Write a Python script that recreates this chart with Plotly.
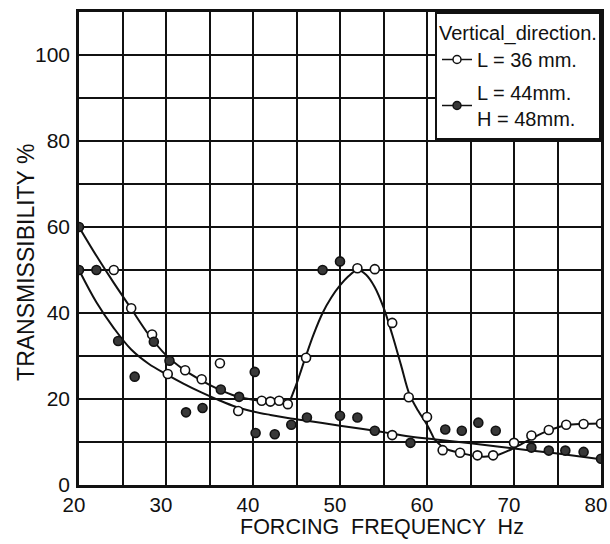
import plotly.graph_objects as go

# ---- data ----
# L = 36 mm (open circles)
open_x = [24, 26, 28.4, 30.2, 32.2, 34.1, 36.2, 38.3, 41, 42, 43, 44, 46.1, 52, 54, 56, 56,
          57.9, 60, 61.8, 63.8, 65.8, 67.6, 70, 72, 74, 76, 78, 80]
open_y = [50, 41.1, 35, 25.8, 26.7, 24.6, 28.3, 17.2, 19.6, 19.4, 19.6, 18.8, 29.6, 50.4, 50.2, 37.7, 11.6,
          20.4, 15.8, 8.1, 7.5, 6.9, 6.9, 9.8, 11.5, 12.8, 14.0, 14.2, 14.3]

# L = 44 mm, H = 48 mm (filled circles)
fill_x = [20, 20, 22, 24.5, 26.4, 28.6, 30.4, 32.3, 34.2, 36.3, 38.4, 40.2, 40.3, 42.5, 44.4, 46.2,
          48, 50, 50, 52, 54, 58.1, 62.1, 64, 65.9, 67.9, 72, 74, 75.9, 78, 80]
fill_y = [60, 50, 50, 33.5, 25.2, 33.3, 28.9, 16.9, 17.9, 22.2, 20.5, 26.3, 12.1, 11.8, 14.0, 15.7,
          50, 52, 16.1, 15.7, 12.6, 9.8, 12.9, 12.6, 14.5, 12.6, 8.7, 8.0, 8.0, 7.7, 6.1]

# fitted curves as drawn in the picture
upper_x = [20, 22, 24, 26, 28, 30, 32, 34, 36, 38, 40, 42, 44.2]
upper_y = [60, 53.3, 47, 41, 35, 30.2, 26.9, 24.4, 22.3, 20.7, 19.8, 19.4, 19.3]

peak_x = [44.2, 45, 46, 47, 48, 49, 50, 51, 52, 53, 54, 55, 56, 57, 58, 59, 60, 60.8]
peak_y = [19.3, 23.5, 29.5, 35.2, 40, 43.6, 46.4, 48.6, 50, 48.9, 46, 41.3, 35, 28, 21, 17.2, 14, 10.8]

tail_x = [60.8, 62, 64, 66, 68, 70, 72, 74, 76, 78, 80]
tail_y = [10.8, 8.6, 7.4, 6.6, 6.9, 8.6, 10.8, 12.7, 13.9, 14.2, 14.3]

lower_x = [20, 22, 24, 26, 28, 30, 32, 34, 36, 38, 40, 42, 44, 47, 50, 54, 58, 61, 65, 70, 75, 80]
lower_y = [50, 42.5, 36.5, 31.5, 28.2, 25.8, 23.6, 21.6, 19.8, 18.2, 17.1, 16.3, 15.6, 14.7, 13.8,
           12.6, 11.3, 10.6, 9.7, 8.5, 7.3, 6.0]

x_ticks = [20, 25, 30, 35, 40, 45, 50, 55, 60, 65, 70, 75, 80]
x_labels = ["20", "", "30", "", "40", "", "50", "", "60", "", "70", "", "80"]
y_ticks = [0, 10, 20, 30, 40, 50, 60, 70, 80, 90, 100]
y_labels = ["0", "", "20", "", "40", "", "60", "", "80", "", "100"]

FONT = "Liberation Sans, Arial, sans-serif"
INK = "#111111"

fig = go.Figure()

for cx, cy in [(upper_x, upper_y), (peak_x, peak_y), (tail_x, tail_y), (lower_x, lower_y)]:
    fig.add_trace(go.Scatter(x=cx, y=cy, mode="lines", line=dict(color=INK, width=2, shape="spline", smoothing=1),
                             showlegend=False, hoverinfo="skip"))

fig.add_trace(go.Scatter(x=open_x, y=open_y, mode="markers", showlegend=False,
                         marker=dict(symbol="circle", size=9, color="white", line=dict(color=INK, width=1.6))))
fig.add_trace(go.Scatter(x=fill_x, y=fill_y, mode="markers", showlegend=False,
                         marker=dict(symbol="circle", size=9, color="#383838", line=dict(color=INK, width=1.6))))

# legend entries
fig.add_trace(go.Scatter(x=[None], y=[None], mode="lines+markers", name="L = 36 mm.", legendgroup="a",
                         line=dict(color=INK, width=1.5),
                         marker=dict(symbol="circle", size=8, color="white", line=dict(color=INK, width=1.5))))
fig.add_trace(go.Scatter(x=[None], y=[None], mode="lines+markers", name="L = 44mm.<br>H = 48mm.",
                         legendgroup="b", line=dict(color=INK, width=1.5),
                         marker=dict(symbol="circle", size=8, color="#383838", line=dict(color=INK, width=1.5))))

axis_common = dict(showline=True, mirror=True, linecolor=INK, linewidth=2.5,
                   showgrid=True, gridcolor=INK, gridwidth=1.6, zeroline=False, automargin=False,
                   ticks="", ticklabeloverflow="allow")

fig.update_xaxes(range=[20, 80], tickmode="array", tickvals=x_ticks, ticktext=x_labels,
                 ticklabelstandoff=0, ticklabelshift=-5,
                 tickfont=dict(family=FONT, size=20.5, color=INK), **axis_common)
fig.update_yaxes(range=[0, 110], tickmode="array", tickvals=y_ticks, ticktext=y_labels,
                 ticklabelstandoff=2, tickfont=dict(family=FONT, size=21, color=INK), **axis_common)

fig.add_annotation(text="TRANSMISSIBILITY %", xref="paper", yref="paper", x=-0.103, y=0.47,
                   textangle=-90, showarrow=False, xanchor="center", yanchor="middle",
                   font=dict(family=FONT, size=23, color=INK))
fig.add_annotation(text="FORCING  FREQUENCY  Hz", xref="paper", yref="paper", x=0.58, y=-0.089,
                   showarrow=False, xanchor="center", yanchor="middle",
                   font=dict(family=FONT, size=21.5, color=INK))

fig.update_layout(
    width=610, height=544,
    margin=dict(l=79, r=9, t=12, b=59),
    paper_bgcolor="white", plot_bgcolor="white",
    font=dict(family=FONT, color=INK),
    legend=dict(x=1, y=1, xanchor="right", yanchor="top", bgcolor="white",
                bordercolor=INK, borderwidth=2, traceorder="grouped", tracegroupgap=4,
                title=dict(text="Vertical_direction.", font=dict(family=FONT, size=20, color=INK)),
                font=dict(family=FONT, size=20, color=INK)),
)

fig.write_html("out.html", config={"displayModeBar": False},
               post_script="document.body.style.margin='0';document.body.style.overflow='hidden';")
